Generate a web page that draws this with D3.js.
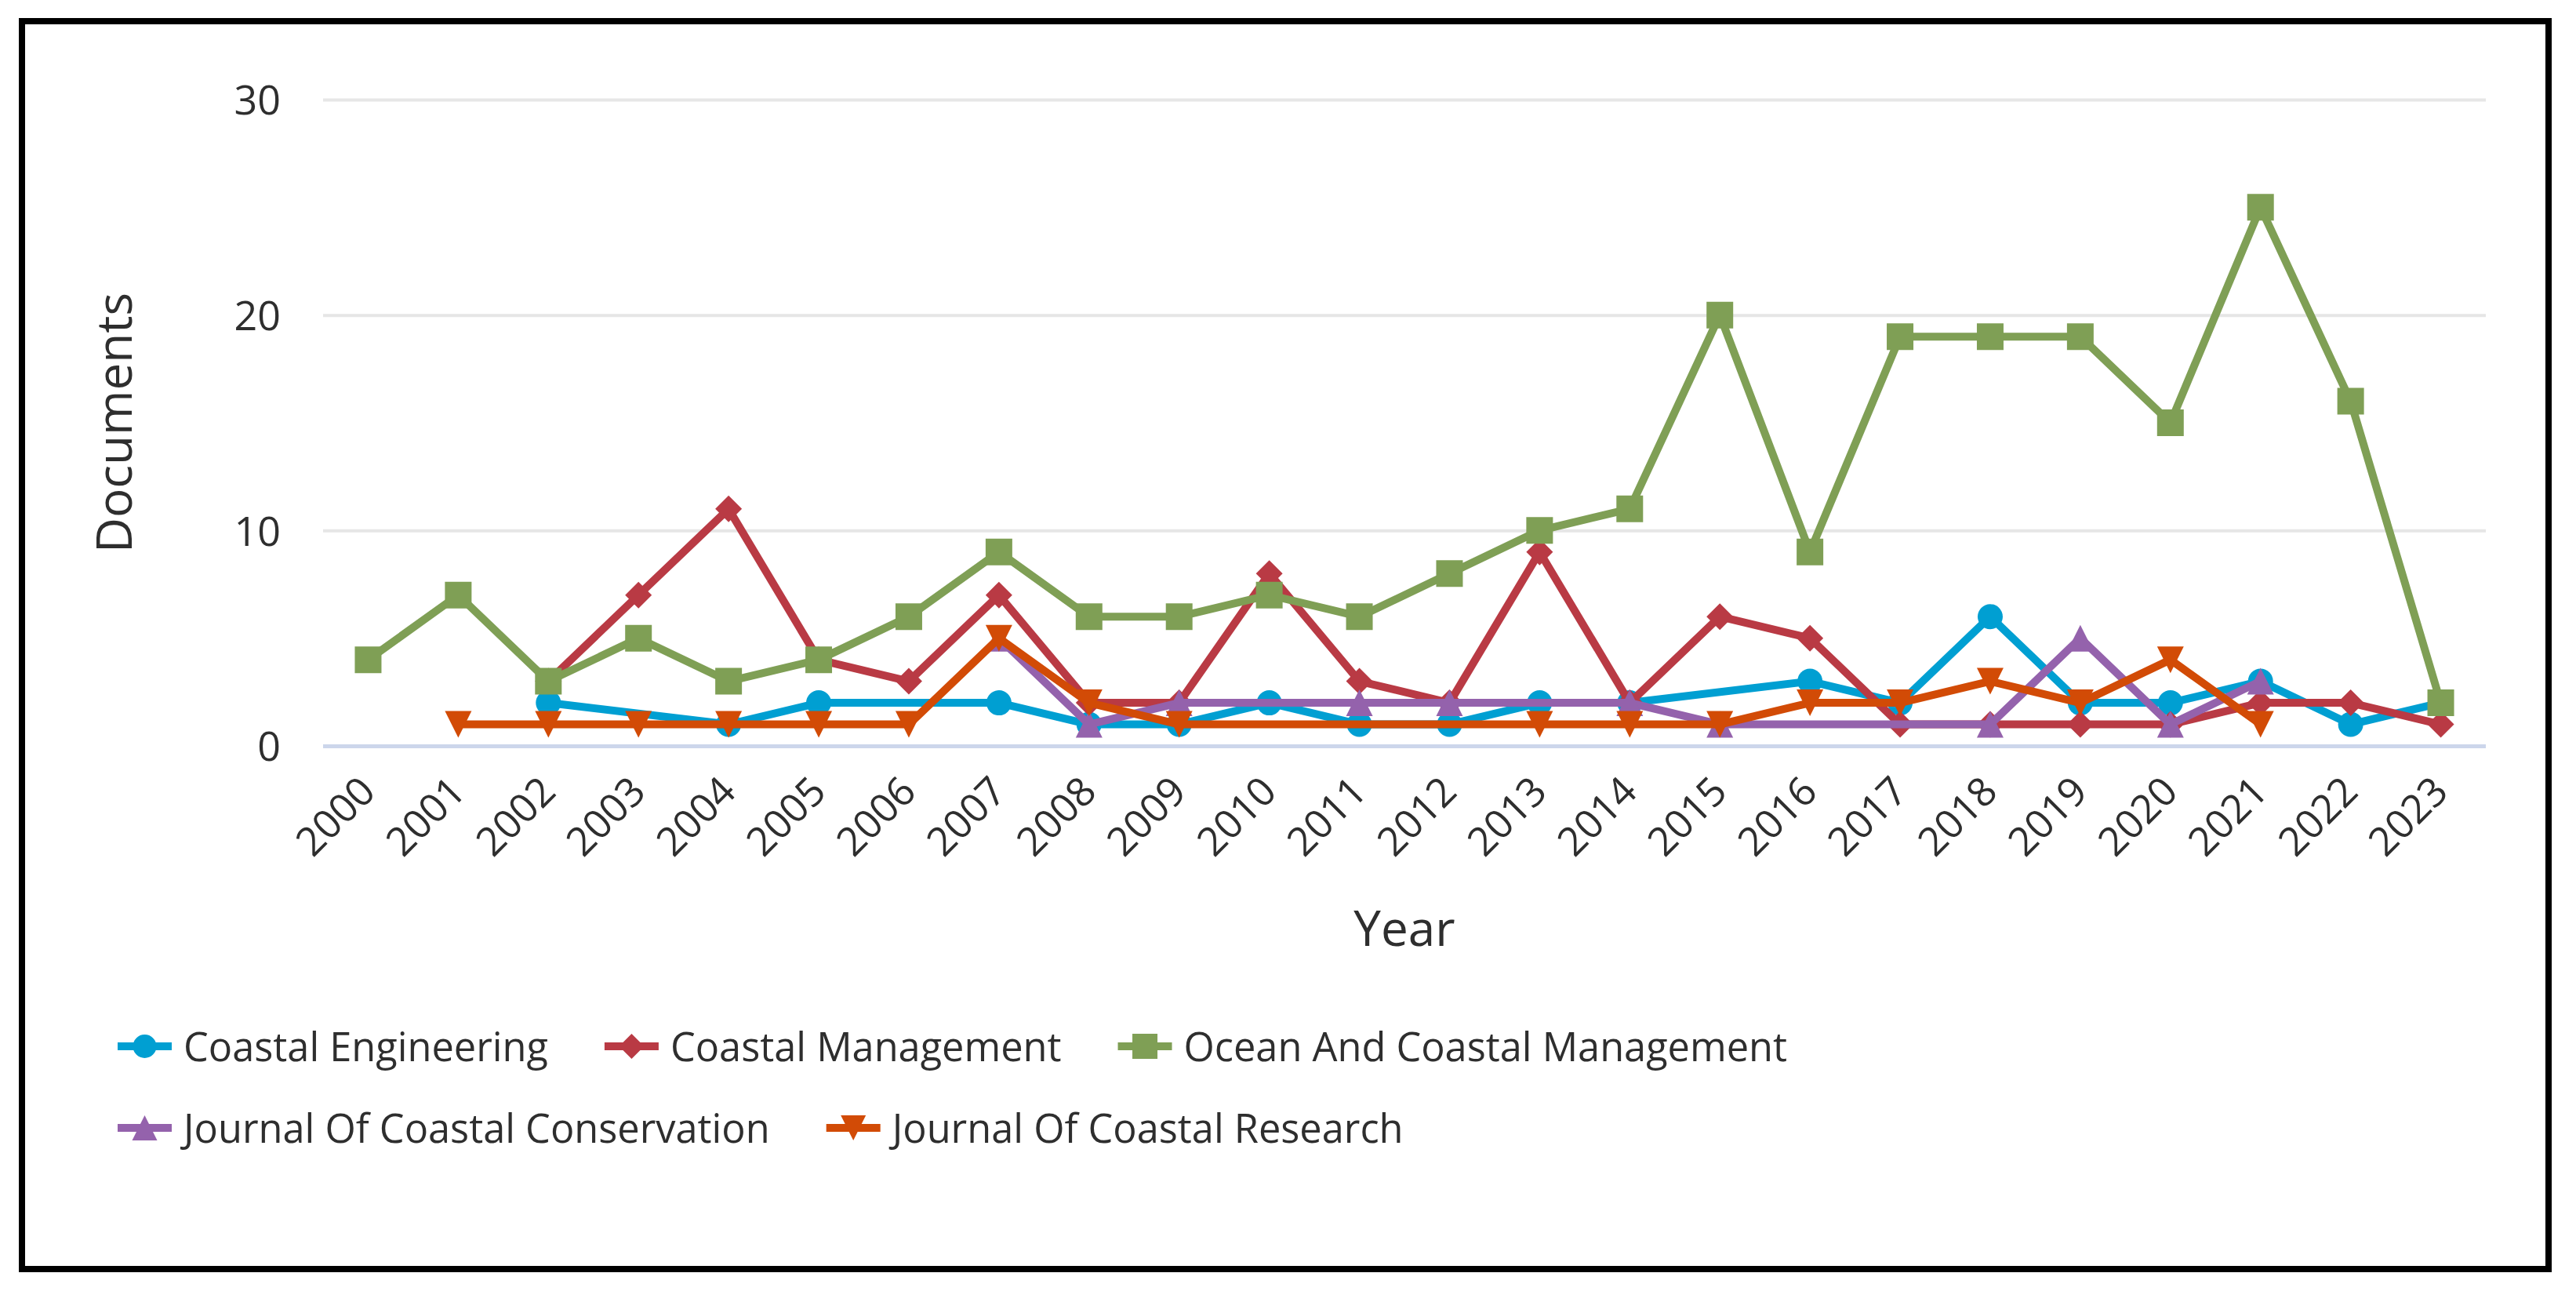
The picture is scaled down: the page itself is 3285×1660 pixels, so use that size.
<!DOCTYPE html>
<html>
<head>
<meta charset="utf-8">
<script src="https://cdn.jsdelivr.net/npm/d3@7"></script>
<style>
    html, body { margin: 0; padding: 0; background: #fff; }
    svg { display: block; font-family: "Open Sans", "Noto Sans", sans-serif; }
</style>
</head>
<body>
<div id="chart"></div>
<script>
// data (null = no point that year, line joins across)
const years = ['2000', '2001', '2002', '2003', '2004', '2005', '2006', '2007', '2008', '2009', '2010', '2011',
    '2012', '2013', '2014', '2015', '2016', '2017', '2018', '2019', '2020', '2021', '2022', '2023'];
const yTicks = [0, 10, 20, 30];

const coastalEngineering = [null, null, 2, null, 1, 2, null, 2, 1, 1, 2, 1, 1, 2, 2, null, 3, 2, 6, 2, 2, 3, 1, 2];
const coastalManagement = [null, null, 3, 7, 11, 4, 3, 7, 2, 2, 8, 3, 2, 9, 2, 6, 5, 1, 1, 1, 1, 2, 2, 1];
const oceanCoastalManagement = [4, 7, 3, 5, 3, 4, 6, 9, 6, 6, 7, 6, 8, 10, 11, 20, 9, 19, 19, 19, 15, 25, 16, 2];
const journalCoastalConservation = [null, null, null, null, null, null, null, 5, 1, 2, null, 2, 2, null, 2, 1, null, null, 1, 5, 1, 3, null, null];
const journalCoastalResearch = [null, 1, 1, 1, 1, 1, 1, 5, 2, 1, null, null, null, 1, 1, 1, 2, 2, 3, 2, 4, 1, null, null];

const seriesNames = ['Coastal Engineering', 'Coastal Management', 'Ocean And Coastal Management',
    'Journal Of Coastal Conservation', 'Journal Of Coastal Research'];

const series = [
    { name: seriesNames[0], values: coastalEngineering, color: '#009fd2', symbol: 'circle' },
    { name: seriesNames[1], values: coastalManagement, color: '#b93a44', symbol: 'diamond' },
    { name: seriesNames[2], values: oceanCoastalManagement, color: '#7f9f55', symbol: 'square' },
    { name: seriesNames[3], values: journalCoastalConservation, color: '#9462ac', symbol: 'triangle' },
    { name: seriesNames[4], values: journalCoastalResearch, color: '#d24b06', symbol: 'triangle-down' }
];

const width = 3285;
const height = 1660;
const plot = { left: 412, right: 3170, top: 127, bottom: 951 };
const textColor = '#2e2e2e';

const svg = d3.select('#chart').append('svg')
    .attr('width', width)
    .attr('height', height);

svg.append('rect')
    .attr('width', width)
    .attr('height', height)
    .attr('fill', '#fff');

// frame
svg.append('rect')
    .attr('x', 28)
    .attr('y', 27)
    .attr('width', 3250 - 28)
    .attr('height', 1618 - 27)
    .attr('fill', 'none')
    .attr('stroke', '#000')
    .attr('stroke-width', 8);

const x = d3.scaleBand().domain(years).range([plot.left, plot.right]);
const y = d3.scaleLinear().domain([0, 30]).range([plot.bottom, plot.top]);
const cx = d => x(d) + x.bandwidth() / 2;

// y axis + grid
const yAxis = svg.append('g')
    .attr('transform', `translate(${plot.left},0)`)
    .call(d3.axisLeft(y).tickValues(yTicks).tickSize(-(plot.right - plot.left)).tickPadding(54));
yAxis.select('.domain').remove();
yAxis.selectAll('.tick line')
    .attr('stroke', d => d === 0 ? '#ccd6eb' : '#e6e6e6')
    .attr('stroke-width', d => d === 0 ? 5 : 4);
yAxis.selectAll('.tick text')
    .attr('dy', '0.36em')
    .style('font-size', '52px')
    .attr('fill', textColor);
yAxis.attr('font-family', null).attr('font-size', null);

// x axis labels
const xAxis = svg.append('g')
    .attr('transform', `translate(0,${plot.bottom})`)
    .call(d3.axisBottom(x).tickSize(0));
xAxis.select('.domain').remove();
xAxis.attr('font-family', null).attr('font-size', null);
xAxis.selectAll('.tick text')
    .attr('x', 0)
    .attr('y', 0)
    .attr('dy', 0)
    .attr('text-anchor', 'end')
    .attr('transform', 'translate(12,61) rotate(-45)')
    .style('font-size', '51px')
    .attr('fill', textColor);

// axis titles
svg.append('text')
    .attr('transform', `translate(168,${(plot.top + plot.bottom) / 2}) rotate(-90)`)
    .attr('text-anchor', 'middle')
    .style('font-size', '62px')
    .attr('fill', textColor)
    .text('Documents');

svg.append('text')
    .attr('x', (plot.left + plot.right) / 2)
    .attr('y', 1206)
    .attr('text-anchor', 'middle')
    .style('font-size', '62px')
    .attr('fill', textColor)
    .text('Year');

function markerPath(symbol, px, py, r) {
    const p = d3.path();
    switch (symbol) {
        case 'circle':
            p.arc(px, py, r - 1, 0, 2 * Math.PI);
            break;
        case 'square':
            p.rect(px - r, py - r, 2 * r, 2 * r);
            break;
        case 'diamond':
            p.moveTo(px, py - r); p.lineTo(px + r, py); p.lineTo(px, py + r); p.lineTo(px - r, py);
            break;
        case 'triangle':
            p.moveTo(px, py - r); p.lineTo(px + r, py + r); p.lineTo(px - r, py + r);
            break;
        case 'triangle-down':
            p.moveTo(px - r, py - r); p.lineTo(px + r, py - r); p.lineTo(px, py + r);
            break;
    }
    p.closePath();
    return p.toString();
}

const line = d3.line()
    .x(d => cx(d.year))
    .y(d => y(d.value));

series.forEach(s => {
    const pts = years.map((yr, i) => ({ year: yr, value: s.values[i] })).filter(d => d.value !== null);
    const gs = svg.append('g');
    gs.append('path')
        .datum(pts)
        .attr('d', line)
        .attr('fill', 'none')
        .attr('stroke', s.color)
        .attr('stroke-width', 10)
        .attr('stroke-linejoin', 'round')
        .attr('stroke-linecap', 'round');
    gs.selectAll('path.marker')
        .data(pts)
        .join('path')
        .attr('class', 'marker')
        .attr('d', d => markerPath(s.symbol, cx(d.year), y(d.value), 17))
        .attr('fill', s.color);
});

// legend, flowing like the original
const legendLeft = 150;
const legendMaxRight = 3100;
const rowBaselines = [1353, 1457];
const itemGap = 72;
let lx = legendLeft;
let row = 0;
series.forEach(s => {
    const item = svg.append('g');
    const label = item.append('text')
        .style('font-size', '50.5px')
        .attr('fill', textColor)
        .text(s.name);
    const itemWidth = 84 + label.node().getComputedTextLength();
    if (lx > legendLeft && lx + itemWidth > legendMaxRight) {
        row += 1;
        lx = legendLeft;
    }
    const base = rowBaselines[row];
    const my = base - 19;
    label.attr('x', lx + 84).attr('y', base);
    item.append('line')
        .attr('x1', lx)
        .attr('x2', lx + 69)
        .attr('y1', my)
        .attr('y2', my)
        .attr('stroke', s.color)
        .attr('stroke-width', 10);
    item.append('path')
        .attr('d', markerPath(s.symbol, lx + 34.5, my, 16))
        .attr('fill', s.color);
    lx += itemWidth + itemGap;
});
</script>
</body>
</html>
